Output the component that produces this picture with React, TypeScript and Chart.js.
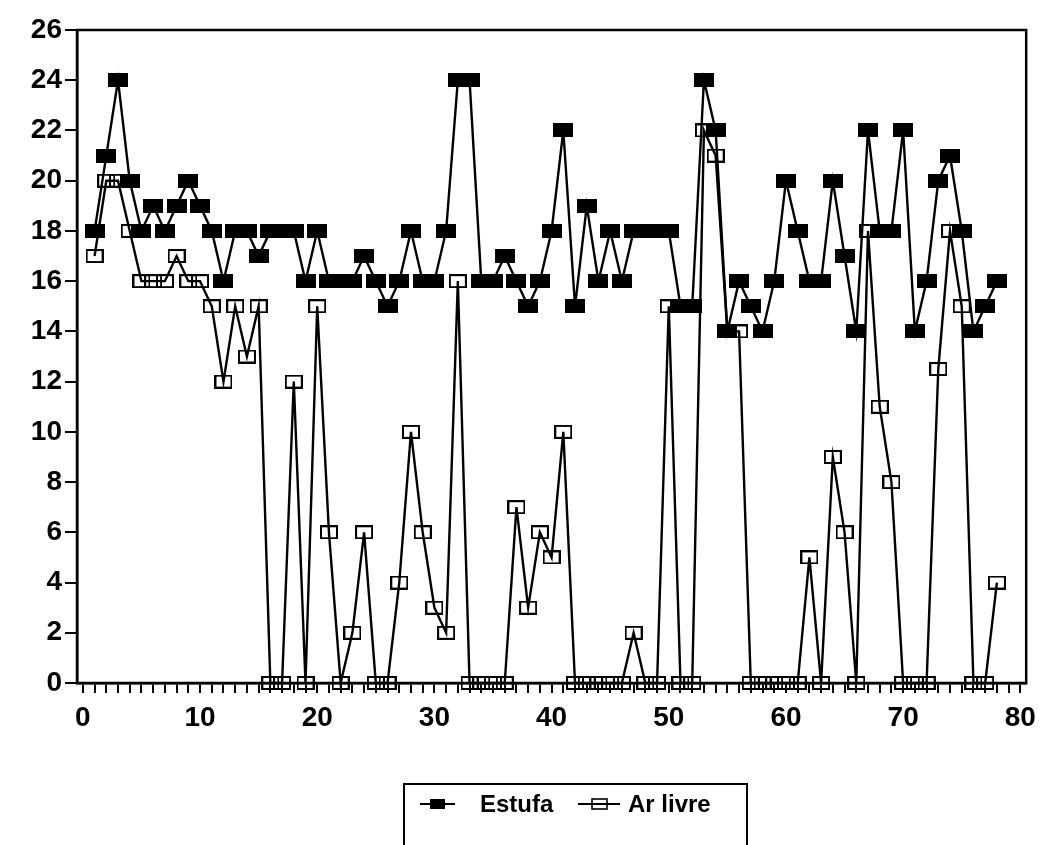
import { useEffect, useRef } from 'react';
import { Chart, registerables } from 'chart.js';

Chart.register(...registerables);

// Day numbers (x values)
const days = [
  1, 2, 3, 4, 5, 6, 7, 8, 9, 10,
  11, 12, 13, 14, 15, 16, 17, 18, 19, 20,
  21, 22, 23, 24, 25, 26, 27, 28, 29, 30,
  31, 32, 33, 34, 35, 36, 37, 38, 39, 40,
  41, 42, 43, 44, 45, 46, 47, 48, 49, 50,
  51, 52, 53, 54, 55, 56, 57, 58, 59, 60,
  61, 62, 63, 64, 65, 66, 67, 68, 69, 70,
  71, 72, 73, 74, 75, 76, 77, 78,
];

// Series "Estufa" (filled squares)
const estufa = [
  18, 21, 24, 20, 18, 19, 18, 19, 20, 19,
  18, 16, 18, 18, 17, 18, 18, 18, 16, 18,
  16, 16, 16, 17, 16, 15, 16, 18, 16, 16,
  18, 24, 24, 16, 16, 17, 16, 15, 16, 18,
  22, 15, 19, 16, 18, 16, 18, 18, 18, 18,
  15, 15, 24, 22, 14, 16, 15, 14, 16, 20,
  18, 16, 16, 20, 17, 14, 22, 18, 18, 22,
  14, 16, 20, 21, 18, 14, 15, 16,
];

// Series "Ar livre" (open squares)
const arLivre = [
  17, 20, 20, 18, 16, 16, 16, 17, 16, 16,
  15, 12, 15, 13, 15, 0, 0, 12, 0, 15,
  6, 0, 2, 6, 0, 0, 4, 10, 6, 3,
  2, 16, 0, 0, 0, 0, 7, 3, 6, 5,
  10, 0, 0, 0, 0, 0, 2, 0, 0, 15,
  0, 0, 22, 21, 14, 14, 0, 0, 0, 0,
  0, 5, 0, 9, 6, 0, 18, 11, 8, 0,
  0, 0, 12.5, 18, 15, 0, 0, 4,
];

const seriesLabels = ['Estufa', 'Ar livre'];

// Axis ticks
const xMinorTicks = [
  0, 1, 2, 3, 4, 5, 6, 7, 8, 9, 10, 11, 12, 13, 14, 15, 16, 17, 18, 19, 20,
  21, 22, 23, 24, 25, 26, 27, 28, 29, 30, 31, 32, 33, 34, 35, 36, 37, 38, 39, 40,
  41, 42, 43, 44, 45, 46, 47, 48, 49, 50, 51, 52, 53, 54, 55, 56, 57, 58, 59, 60,
  61, 62, 63, 64, 65, 66, 67, 68, 69, 70, 71, 72, 73, 74, 75, 76, 77, 78, 79, 80,
];
const xTickLabels = [0, 10, 20, 30, 40, 50, 60, 70, 80];
const yTickLabels = [0, 2, 4, 6, 8, 10, 12, 14, 16, 18, 20, 22, 24, 26];

const FONT = '"Liberation Sans", Arial, Helvetica, sans-serif';

function makeMarker(w: number, h: number, filled: boolean): HTMLCanvasElement {
  const c = document.createElement('canvas');
  c.width = w;
  c.height = h;
  const g = c.getContext('2d')!;
  if (filled) {
    g.fillStyle = '#000';
    g.fillRect(0, 0, w, h);
  } else {
    g.strokeStyle = '#000';
    g.lineWidth = 2;
    g.strokeRect(1, 1, w - 2, h - 2);
  }
  return c;
}

export default function App() {
  const ref = useRef<HTMLCanvasElement>(null);

  useEffect(() => {
    if (!ref.current) return;
    const blackMarker = makeMarker(20, 14, true);
    const openMarker = makeMarker(18, 14, false);

    const framePlugin = {
      id: 'frame',
      afterDatasetsDraw(chart: any) {
        const { ctx, chartArea: a } = chart;
        ctx.save();
        ctx.strokeStyle = '#000';
        ctx.lineWidth = 2.5;
        ctx.strokeRect(a.left, a.top, a.right - a.left, a.bottom - a.top);
        ctx.restore();
      },
    };

    const legendPlugin = {
      id: 'boxLegend',
      afterDraw(chart: any) {
        const c = chart.ctx;
        const cy = 804;
        c.save();
        c.strokeStyle = '#000';
        c.fillStyle = '#000';
        c.lineWidth = 2;
        c.strokeRect(404, 784, 343, 90);
        // Estufa symbol
        c.beginPath();
        c.moveTo(420, cy);
        c.lineTo(455, cy);
        c.stroke();
        c.fillRect(430, cy - 5, 15, 10);
        // Ar livre symbol
        c.beginPath();
        c.moveTo(578, cy);
        c.lineTo(620, cy);
        c.stroke();
        c.lineWidth = 1.6;
        c.strokeRect(592, cy - 5, 15, 10);
        c.font = `bold 24px ${FONT}`;
        c.textBaseline = 'alphabetic';
        c.textAlign = 'left';
        c.fillText(chart.data.datasets[0].label, 480, 812);
        c.fillText(chart.data.datasets[1].label, 628, 812);
        c.restore();
      },
    };

    const tickFont = { family: FONT, size: 28, weight: 'bold' as const };

    const chart = new Chart(ref.current, {
      type: 'line',
      data: {
        datasets: [
          {
            label: seriesLabels[0],
            data: days.map((d, i) => ({ x: d, y: estufa[i] })),
            borderColor: '#000',
            borderWidth: 2.4,
            pointStyle: blackMarker as any,
            pointRadius: 9,
            pointHoverRadius: 9,
            tension: 0,
            fill: false,
            clip: false as any,
          },
          {
            label: seriesLabels[1],
            data: days.map((d, i) => ({ x: d, y: arLivre[i] })),
            borderColor: '#000',
            borderWidth: 2.4,
            pointStyle: openMarker as any,
            pointRadius: 9,
            pointHoverRadius: 9,
            tension: 0,
            fill: false,
            clip: false as any,
          },
        ],
      },
      options: {
        responsive: false,
        animation: false,
        events: [],
        layout: { padding: { top: 30, right: 17, left: 0, bottom: 0 } },
        plugins: {
          legend: { display: false },
          tooltip: { enabled: false },
        },
        scales: {
          x: {
            type: 'linear',
            min: -0.5,
            max: 80.5,
            afterBuildTicks: (scale: any) => {
              scale.ticks = xMinorTicks.map((v) => ({ value: v }));
            },
            afterFit: (scale: any) => {
              scale.height = 162;
            },
            ticks: {
              autoSkip: false,
              maxRotation: 0,
              minRotation: 0,
              padding: 8,
              color: '#000',
              font: tickFont,
              callback: (v: any) => (xTickLabels.includes(Number(v)) ? String(v) : ''),
            },
            grid: {
              drawOnChartArea: false,
              drawTicks: true,
              tickLength: 10,
              color: '#000',
              lineWidth: 2,
            },
            border: { display: true, color: '#000', width: 2.5 },
          },
          y: {
            type: 'linear',
            min: 0,
            max: 26,
            afterBuildTicks: (scale: any) => {
              scale.ticks = yTickLabels.map((v) => ({ value: v }));
            },
            afterFit: (scale: any) => {
              scale.width = 77;
            },
            ticks: {
              padding: 3,
              color: '#000',
              font: tickFont,
              callback: (v: any) => String(v),
            },
            grid: {
              drawOnChartArea: false,
              drawTicks: true,
              tickLength: 12,
              color: '#000',
              lineWidth: 2,
            },
            border: { display: true, color: '#000', width: 2.5 },
          },
        },
      },
      plugins: [framePlugin, legendPlugin],
    });

    return () => chart.destroy();
  }, []);

  return (
    <div style={{ position: 'absolute', left: 0, top: 0, width: 1044, height: 845, background: '#fff' }}>
      <canvas ref={ref} width={1044} height={845} style={{ display: 'block' }} />
    </div>
  );
}
